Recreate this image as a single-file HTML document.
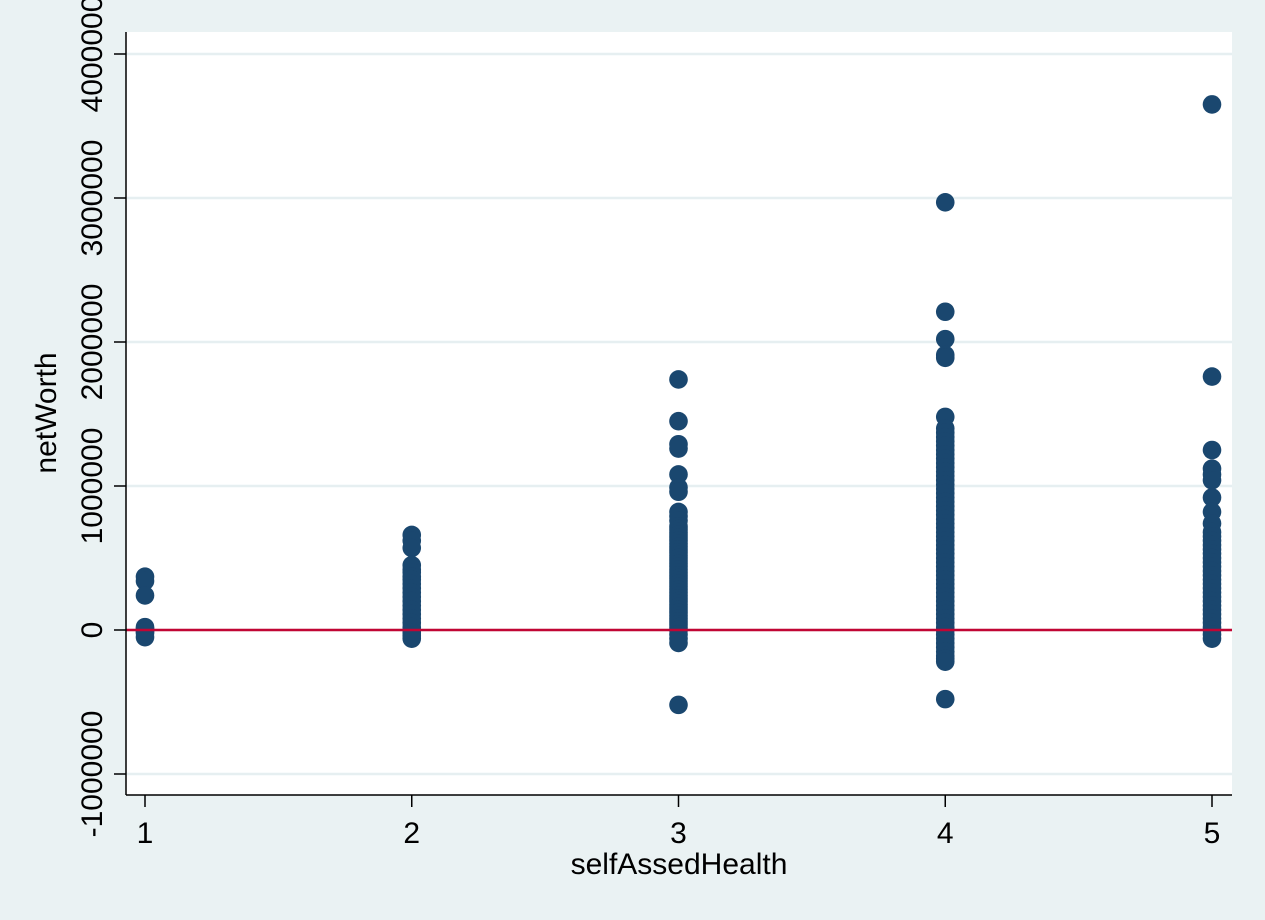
<!DOCTYPE html>
<html><head><meta charset="utf-8"><style>
html,body{margin:0;padding:0;background:#eaf2f3;}
svg{display:block;font-family:"Liberation Sans",Arial,sans-serif;}
</style></head><body>
<svg id="chart" width="1265" height="920" viewBox="0 0 1265 920" xmlns="http://www.w3.org/2000/svg">
<rect x="0" y="0" width="1265" height="920" fill="#eaf2f3"/>
<rect x="126" y="32" width="1106" height="763" fill="#ffffff"/>
<g id="grid"></g>
<g id="points"></g>
<g id="zero"></g>
<g id="axes"></g>
<text x="679" y="874" font-size="30" text-anchor="middle" fill="#000">selfAssedHealth</text>
<text transform="translate(56,413) rotate(-90)" font-size="30" text-anchor="middle" fill="#000">netWorth</text>
</svg>
<script>
const xCategories=[1,2,3,4,5];
const yTicks=[-1000000,0,1000000,2000000,3000000,4000000];
const yTickLabels=["-1000000","0","1000000","2000000","3000000","4000000"];
const series1=[370000,340000,240000,20000,0,-20000,-50000,10000,-10000];
const series2=[660000,620000,570000,450000,420000,400000,370000,350000,320000,290000,260000,230000,200000,170000,140000,110000,80000,50000,20000,0,-20000,-40000,-60000];
const series3=[1740000,1450000,1290000,1260000,1080000,990000,960000,820000,790000,760000,720000,700000,680000,660000,640000,620000,600000,580000,560000,540000,520000,500000,480000,460000,440000,420000,400000,380000,360000,340000,320000,300000,280000,260000,240000,220000,200000,180000,160000,140000,120000,100000,80000,60000,40000,20000,0,-30000,-60000,-90000,-520000];
const series4=[2970000,2210000,2020000,1910000,1890000,1480000,1400000,1370000,1340000,1310000,1280000,1250000,1220000,1190000,1160000,1130000,1100000,1070000,1040000,1010000,980000,950000,920000,890000,860000,830000,800000,770000,740000,710000,680000,650000,620000,590000,560000,530000,500000,470000,440000,410000,380000,350000,320000,290000,260000,230000,200000,170000,140000,110000,80000,50000,20000,0,-30000,-60000,-90000,-120000,-150000,-180000,-200000,-220000,-480000];
const series5=[3650000,1760000,1250000,1120000,1080000,1040000,920000,820000,740000,680000,650000,620000,590000,560000,530000,500000,470000,440000,410000,380000,350000,320000,290000,260000,230000,200000,170000,140000,110000,80000,50000,20000,0,-30000,-60000];
const seriesAll=[series1,series2,series3,series4,series5];

const NS="http://www.w3.org/2000/svg";
const X0=126,X1=1232,Y0=32,Y1=795;
function xs(v){return 145+(v-1)*266.75;}
function ys(v){return 630-v*0.000144;}
function mk(tag,attrs,parent){const e=document.createElementNS(NS,tag);for(const k in attrs)e.setAttribute(k,attrs[k]);parent.appendChild(e);return e;}
const grid=document.getElementById('grid'),axes=document.getElementById('axes'),pts=document.getElementById('points'),zero=document.getElementById('zero');
yTicks.forEach((t,i)=>{
  const g=mk('line',{x1:X0,x2:X1,y1:ys(t),y2:ys(t),stroke:'#e6eff1','stroke-width':2.5},grid);
  
  
  const tk=mk('line',{x1:X0-12,x2:X0,y1:ys(t),y2:ys(t),stroke:'#000','stroke-width':1.5},axes);
  
  
  const tx=mk('text',{transform:'translate(102,'+ys(t)+') rotate(-90)','font-size':30,'text-anchor':'middle',fill:'#000'},axes);
  
  
  tx.textContent=yTickLabels[i];
});
xCategories.forEach(c=>{
  const tk=mk('line',{x1:xs(c),x2:xs(c),y1:Y1,y2:Y1+12,stroke:'#000','stroke-width':1.5},axes);
  
  
  const tx=mk('text',{x:xs(c),y:843,'font-size':30,'text-anchor':'middle',fill:'#000'},axes);
  
  
  tx.textContent=String(c);
});
seriesAll.forEach((s,i)=>{
  s.forEach(v=>{
    const c=mk('circle',{cx:xs(xCategories[i]),cy:ys(v),r:9.3,fill:'#1a476f'},pts);
    
    
  });
});
const zl=mk('line',{x1:X0,x2:X1,y1:ys(0),y2:ys(0),stroke:'#c10534','stroke-width':2.5},zero);


const ax=mk('line',{x1:X0,x2:X0,y1:Y0,y2:Y1,stroke:'#000','stroke-width':1.5},axes);


const bx=mk('line',{x1:X0,x2:X1,y1:Y1,y2:Y1,stroke:'#000','stroke-width':1.5},axes);


</script>
</body></html>
